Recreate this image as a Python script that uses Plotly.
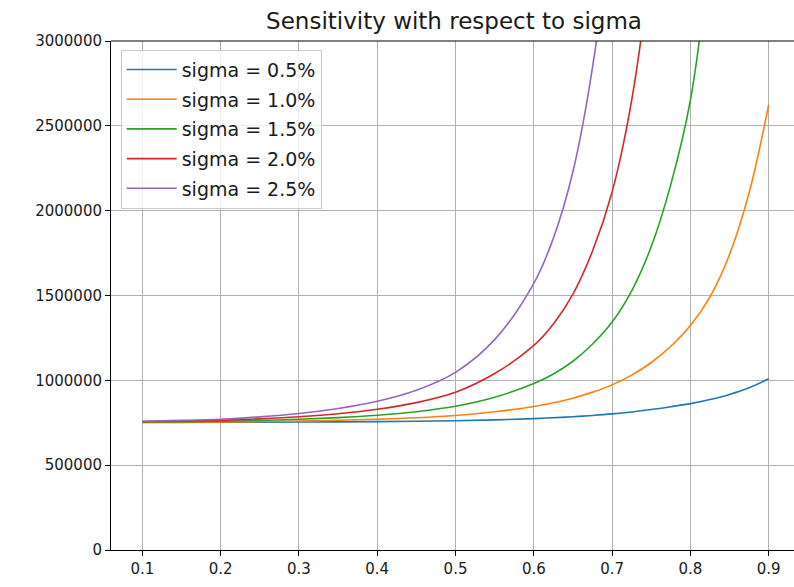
import plotly.graph_objects as go

# Confidence level grid (x) shared by all series
alpha = [0.1, 0.15, 0.2, 0.25, 0.3, 0.35, 0.4, 0.45, 0.5, 0.55, 0.6, 0.625,
         0.65, 0.675, 0.7, 0.725, 0.75, 0.775, 0.8, 0.825, 0.85, 0.875, 0.9]

# Values in millions for each volatility level
sig_05 = [0.7523, 0.7525, 0.7528, 0.7533, 0.7540, 0.7551, 0.7566, 0.7588, 0.7620,
          0.7672, 0.7745, 0.7794, 0.7854, 0.7931, 0.8021, 0.8136, 0.8280, 0.8447,
          0.8625, 0.8870, 0.9170, 0.9560, 1.0090]
sig_10 = [0.7531, 0.7539, 0.7550, 0.7571, 0.7602, 0.7645, 0.7707, 0.7796, 0.7929,
          0.8146, 0.8462, 0.8676, 0.8949, 0.9305, 0.9733, 1.0305, 1.1051, 1.2008,
          1.3231, 1.4918, 1.7419, 2.1064, 2.6247]
sig_15 = [0.7545, 0.7562, 0.7588, 0.7636, 0.7705, 0.7804, 0.7946, 0.8153, 0.8472,
          0.9003, 0.9807, 1.0375, 1.1124, 1.2144, 1.3438, 1.5277, 1.7883, 2.1550,
          2.6510, 3.5520, 5.0350, 7.6300, 12.520]
sig_20 = [0.7565, 0.7596, 0.7641, 0.7727, 0.7852, 0.8033, 0.8294, 0.8685, 0.9296,
          1.0400, 1.2056, 1.3325, 1.5083, 1.7627, 2.1103, 2.6513, 3.5080, 4.8310,
          6.9250, 11.420, 22.100, 40.000, 75.000]
sig_25 = [0.7591, 0.7638, 0.7710, 0.7847, 0.8045, 0.8337, 0.8764, 0.9417, 1.0473,
          1.2398, 1.5721, 1.8381, 2.2311, 2.8466, 3.7718, 5.3860, 8.3500, 14.000,
          25.000, 50.000, 100.00, 200.00, 400.00]

labels = ["sigma = 0.5%", "sigma = 1.0%", "sigma = 1.5%", "sigma = 2.0%", "sigma = 2.5%"]
series = [sig_05, sig_10, sig_15, sig_20, sig_25]
colors = ["#1f77b4", "#ff7f0e", "#2ca02c", "#d62728", "#9467bd"]

y_ticks = [0, 500000, 1000000, 1500000, 2000000, 2500000, 3000000]
x_ticks = [0.1, 0.2, 0.3, 0.4, 0.5, 0.6, 0.7, 0.8, 0.9]

FONT = "DejaVu Sans"

fig = go.Figure()
for name, vals, col in zip(labels, series, colors):
    fig.add_trace(go.Scatter(
        x=alpha, y=[v * 1e6 for v in vals], mode="lines", name=name,
        legendgroup=name,
        line=dict(color=col, width=1.6, shape="spline", smoothing=1.0),
    ))

fig.update_layout(
    width=794, height=587,
    margin=dict(l=111, r=0, t=41, b=37),
    paper_bgcolor="white", plot_bgcolor="white",
    font=dict(family=FONT, size=15, color="black"),
    title=dict(text="Sensitivity with respect to sigma", xref="container", yref="container",
               x=454 / 794, y=1 - 21 / 587, xanchor="center", yanchor="middle",
               font=dict(family=FONT, size=23, color="#1a1a1a")),
    legend=dict(x=0.0142, y=0.983, xanchor="left", yanchor="top",
                bgcolor="rgba(255,255,255,0.8)", bordercolor="#cccccc", borderwidth=1,
                font=dict(family=FONT, size=19, color="#1a1a1a"),
                itemwidth=50, tracegroupgap=2, traceorder="grouped"),
    showlegend=True,
)

fig.update_xaxes(
    range=[0.06, 0.9323], tickvals=x_ticks, ticktext=[f"{t:.1f}" for t in x_ticks],
    showgrid=True, gridcolor="#b0b0b0", gridwidth=1,
    showline=True, linecolor="black", linewidth=1,
    ticks="outside", ticklen=5, tickcolor="black", tickwidth=1,
    zeroline=False, tickfont=dict(family=FONT, size=15, color="#1a1a1a"),
)
fig.update_yaxes(
    range=[0, 3000000], tickvals=y_ticks, ticktext=[str(t) for t in y_ticks],
    showgrid=True, gridcolor="#b0b0b0", gridwidth=1,
    showline=True, linecolor="black", linewidth=1,
    ticks="outside", ticklen=5, tickcolor="black", tickwidth=1,
    zeroline=False, tickfont=dict(family=FONT, size=15, color="#1a1a1a"),
)

# Top spine of the axes frame
fig.add_shape(type="line", xref="paper", yref="paper", x0=0, x1=1, y0=1, y1=1,
              line=dict(color="black", width=1))

fig.write_html("out.html")
